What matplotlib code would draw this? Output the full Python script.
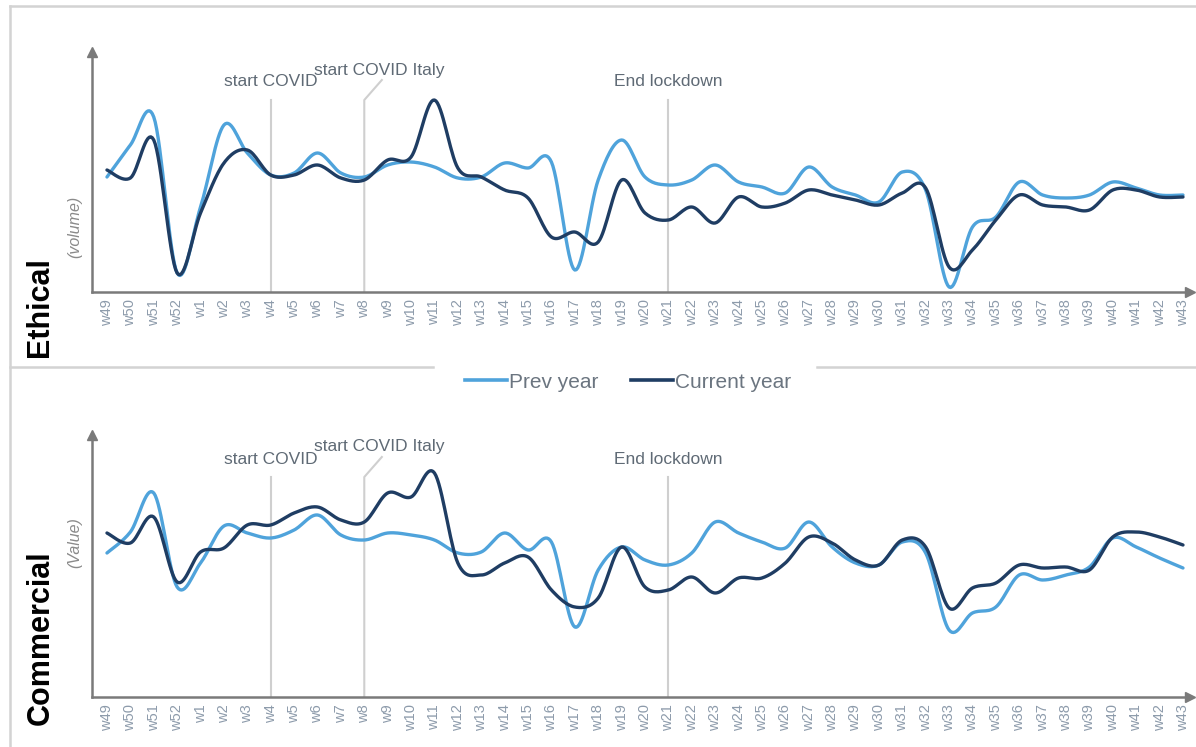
import numpy as np
import matplotlib
matplotlib.use("Agg")
import matplotlib.pyplot as plt
from matplotlib.lines import Line2D

weeks = ["w49", "w50", "w51", "w52"] + ["w%d" % i for i in range(1, 44)]

# values (arbitrary height units above the x axis)
ethical_prev = [115, 147, 175, 19, 85, 167, 139, 117, 119, 139, 119, 115, 127, 130, 125, 114,
                115, 129, 124, 130, 22, 112, 152, 115, 107, 112, 127, 110, 105, 99, 125, 105,
                97, 90, 120, 102, 5, 65, 75, 110, 97, 94, 97, 110, 104, 97, 97]
ethical_curr = [122, 114, 152, 19, 79, 129, 142, 117, 117, 127, 114, 112, 132, 135, 192, 124,
                115, 102, 94, 55, 60, 50, 112, 79, 72, 85, 69, 95, 85, 89, 102, 97,
                92, 87, 99, 104, 25, 42, 72, 97, 87, 85, 82, 102, 102, 95, 95]
commercial_prev = [144, 165, 204, 110, 134, 171, 164, 159, 167, 182, 162, 157, 164, 162, 157, 144,
                   145, 164, 147, 155, 70, 127, 150, 137, 132, 144, 175, 164, 155, 149, 175, 150,
                   134, 132, 155, 144, 67, 84, 90, 122, 117, 122, 130, 159, 150, 139, 129]
commercial_curr = [164, 154, 180, 115, 145, 149, 172, 172, 184, 190, 177, 175, 204, 200, 224, 134,
                   122, 134, 140, 107, 90, 99, 150, 110, 107, 120, 104, 119, 119, 134, 160, 154,
                   137, 132, 157, 150, 89, 109, 114, 132, 129, 130, 127, 160, 165, 160, 152]

events = ["start COVID", "start COVID Italy", "End lockdown"]
event_weeks = ["w4", "w8", "w21"]

PREV_C = "#4fa3db"
CURR_C = "#1f3d63"
GREY_TXT = "#5f6a75"
TICK_C = "#8d9bab"
VLINE_C = "#cfcfcf"
AXIS_C = "#7a7a7a"

plt.rcParams["font.family"] = ["Liberation Sans", "DejaVu Sans"]


def smooth(y, n=16):
    # Catmull-Rom curve through the points, like a smoothed Excel line
    y = np.asarray(y, dtype=float)
    x = np.arange(len(y), dtype=float)
    px = np.concatenate([[x[0]], x, [x[-1]]])
    py = np.concatenate([[y[0]], y, [y[-1]]])
    xs, ys = [], []
    t = np.linspace(0, 1, n, endpoint=False)
    for i in range(1, len(px) - 2):
        for arr, out in ((px, xs), (py, ys)):
            p0, p1, p2, p3 = arr[i - 1], arr[i], arr[i + 1], arr[i + 2]
            out.extend(0.5 * (2 * p1 + (-p0 + p2) * t + (2 * p0 - 5 * p1 + 4 * p2 - p3) * t ** 2
                              + (-p0 + 3 * p1 - 3 * p2 + p3) * t ** 3))
    xs.append(x[-1])
    ys.append(y[-1])
    return np.array(xs), np.array(ys)


def panel(ax, prev, curr, ymax, ylabel, ylab_y, name, name_y, text_h, line_h, italy_h):
    xp, yp = smooth(prev)
    xc, yc = smooth(curr)
    ax.plot(xp, yp, color=PREV_C, lw=2.4, solid_capstyle="round", zorder=3)
    ax.plot(xc, yc, color=CURR_C, lw=2.4, solid_capstyle="round", zorder=4)
    ax.set_xlim(-0.64, 46.3)
    ax.set_ylim(0, ymax)
    ax.set_xticks(range(len(weeks)))
    ax.set_xticklabels(weeks, rotation=90, fontsize=10.5, color=TICK_C)
    ax.tick_params(axis="x", length=0, pad=5)
    ax.set_yticks([])
    for s in ("top", "right"):
        ax.spines[s].set_visible(False)
    for s in ("left", "bottom"):
        ax.spines[s].set_color(AXIS_C)
        ax.spines[s].set_linewidth(1.8)
    ax.plot(1, 0, ">", color=AXIS_C, ms=7, transform=ax.transAxes, clip_on=False)
    ax.plot(0, 1, "^", color=AXIS_C, ms=7, transform=ax.transAxes, clip_on=False)
    ax.text(-0.0155, ylab_y, ylabel, rotation=90, transform=ax.transAxes, ha="center", va="center",
            fontsize=11.5, style="italic", color="#8a8a8a")

    for ev, wk in zip(events, event_weeks):
        xi = weeks.index(wk)
        if ev == "start COVID Italy":
            ax.plot([xi, xi, xi + 0.75], [0, line_h, italy_h - 10], color=VLINE_C, lw=1.5, zorder=1)
            ax.text(xi + 0.65, italy_h, ev, ha="center", va="center", fontsize=12.5, color=GREY_TXT)
        else:
            ax.plot([xi, xi], [0, line_h], color=VLINE_C, lw=1.5, zorder=1)
            ax.text(xi, text_h, ev, ha="center", va="center", fontsize=12.5, color=GREY_TXT)

    ax.text(-0.047, name_y, name, rotation=90, transform=ax.transAxes, ha="center", va="center",
            fontsize=22, fontweight="bold", color="black")


fig = plt.figure(figsize=(11.96, 7.47), dpi=100)
W, H = 1196.0, 747.0

ax1 = fig.add_axes([92 / W, 1 - 292 / H, (1190 - 92) / W, (292 - 52) / H])
panel(ax1, ethical_prev, ethical_curr, 240, "(volume)", 0.27, "Ethical", -0.063, 211, 192, 222)

ax2 = fig.add_axes([92 / W, 1 - 697 / H, (1190 - 92) / W, (697 - 435) / H])
panel(ax2, commercial_prev, commercial_curr, 262, "(Value)", 0.588, "Commercial", 0.225, 237, 220, 250)

# panel frames
border = dict(color="#d3d3d3", lw=1.8, transform=fig.transFigure)
fig.add_artist(Line2D([10 / W, 1], [1 - 6 / H, 1 - 6 / H], **border))
fig.add_artist(Line2D([10 / W, 10 / W], [1 - 6 / H, 0], **border))
fig.add_artist(Line2D([10 / W, 433 / W], [1 - 367 / H, 1 - 367 / H], **border))
fig.add_artist(Line2D([817 / W, 1], [1 - 367 / H, 1 - 367 / H], **border))

handles = [Line2D([], [], color=PREV_C, lw=2.6), Line2D([], [], color=CURR_C, lw=2.6)]
leg = fig.legend(handles, ["Prev year", "Current year"], loc="center",
                 bbox_to_anchor=(628 / W, 1 - 382 / H), ncol=2, frameon=False,
                 fontsize=15, handlelength=2.0, handletextpad=0.1, columnspacing=1.6)
for t in leg.get_texts():
    t.set_color("#6b7580")

fig.savefig("out.png", dpi=100)
plt.close(fig)
